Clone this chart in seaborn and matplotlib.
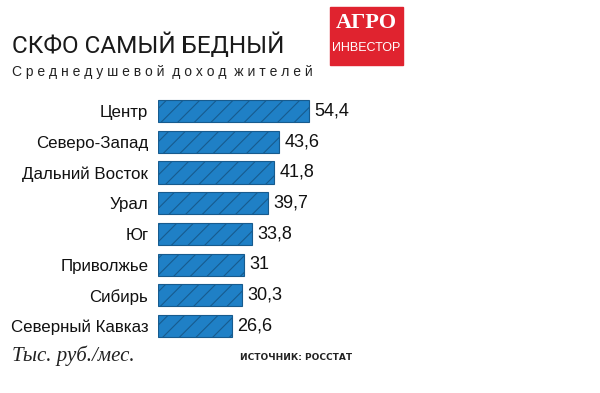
import matplotlib.pyplot as plt
import matplotlib.patches as mpatches
import pandas as pd
import seaborn as sns

regions = ['Центр', 'Северо-Запад', 'Дальний Восток', 'Урал', 'Юг',
           'Приволжье', 'Сибирь', 'Северный Кавказ']
income = [54.4, 43.6, 41.8, 39.7, 33.8, 31.0, 30.3, 26.6]

df = pd.DataFrame({'region': regions, 'income': income})

sns.set_theme(style="white")
plt.rcParams['font.family'] = ['Liberation Sans', 'DejaVu Sans']
plt.rcParams['hatch.linewidth'] = 0.8
plt.rcParams['hatch.color'] = '#175b8e'

fig = plt.figure(figsize=(6, 3.93), dpi=100)
ax = fig.add_axes([158 / 600, 0.1315, 222 / 600, 0.625])

sns.barplot(data=df, x='income', y='region', orient='h', color='#1f80c6',
            saturation=1, width=0.72, ax=ax)
for p in ax.patches:
    p.set_hatch('//')
    p.set_edgecolor('#175b8e')
    p.set_linewidth(0.8)

ax.set_xlim(0, 80)
ax.set_ylim(7.5, -0.5)
ax.set_xlabel('')
ax.set_ylabel('')
ax.set_xticks([])
ax.tick_params(axis='y', length=0, pad=7, labelsize=12.2, labelcolor='#111111')
for s in ax.spines.values():
    s.set_visible(False)

for i, v in enumerate(income):
    txt = ('%g' % v).replace('.', ',')
    ax.text(v + 2.0, i, txt, va='center', ha='left', fontsize=13, color='#111111')

# header
fig.text(12 / 600, 1 - 45 / 393, 'СКФО САМЫЙ БЕДНЫЙ', fontsize=17.5, va='center',
         ha='left', color='#1a1a1a', family=['Roboto', 'Liberation Sans'])
fig.text(12 / 600, 1 - 72 / 393, 'С р е д н е д у ш е в о й  д о х о д  ж и т е л е й',
         fontsize=10, va='center', ha='left', color='#222222')

# logo
fig.patches.append(mpatches.Rectangle((330 / 600, 1 - 65 / 393), 73 / 600, 58 / 393,
                                      transform=fig.transFigure, color='#e0232f'))
fig.text(366.5 / 600, 1 - 23 / 393, 'АГРО', fontsize=16, fontweight='bold',
         family=['Liberation Serif', 'DejaVu Serif'], color='white', ha='center', va='center')
fig.text(366.5 / 600, 1 - 48 / 393, 'ИНВЕСТОР', fontsize=9,
         family=['Liberation Sans', 'DejaVu Sans'], color='white', ha='center', va='center')

# footer
fig.text(12 / 600, 1 - 356 / 393, 'Тыс. руб./мес.', fontsize=15, style='italic',
         family=['Liberation Serif', 'DejaVu Serif'], color='#222222', va='center', ha='left')
fig.text(240 / 600, 1 - 357 / 393, 'ИСТОЧНИК: РОССТАТ', fontsize=6.5,
         fontweight='bold', family=['DejaVu Sans'], color='#222222', va='center', ha='left')

fig.savefig('out.png', dpi=100)
